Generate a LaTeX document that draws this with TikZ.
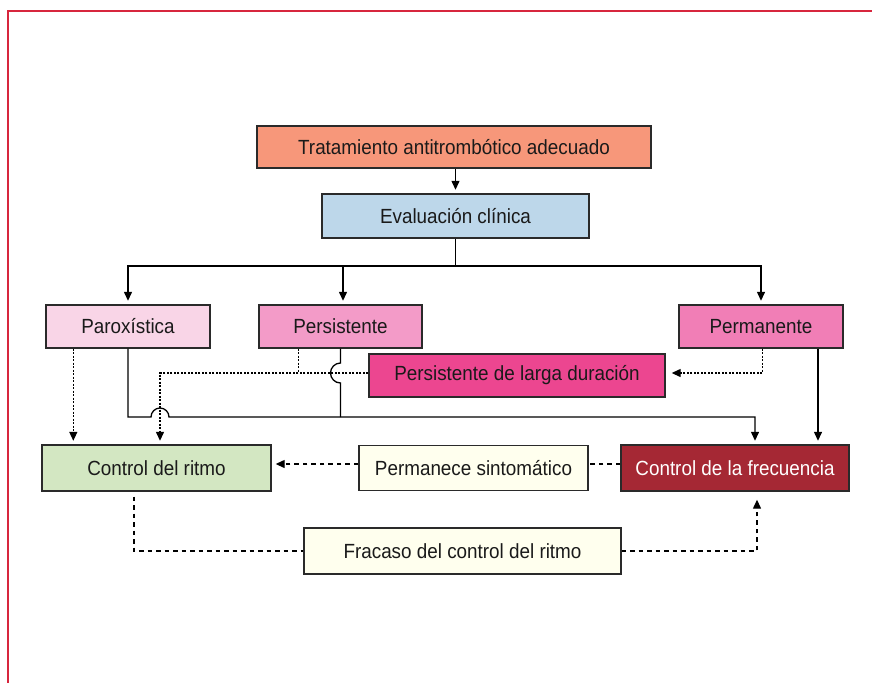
\documentclass[tikz,border=0pt]{standalone}
\usepackage{fontspec}
\setmainfont{Liberation Sans}[FakeStretch=0.92]
\usetikzlibrary{arrows.meta}
\definecolor{cTrat}{HTML}{F7977A}
\definecolor{cEval}{HTML}{BDD7EA}
\definecolor{cParox}{HTML}{F9D5E7}
\definecolor{cPers}{HTML}{F39BC8}
\definecolor{cPerm}{HTML}{F17EB6}
\definecolor{cLarga}{HTML}{EC4690}
\definecolor{cRitmo}{HTML}{D3E7C2}
\definecolor{cCream}{HTML}{FFFFEE}
\definecolor{cFrec}{HTML}{A52834}
\definecolor{cFrame}{HTML}{D7263D}
\definecolor{boxline}{HTML}{2A2A2A}
\definecolor{txt}{HTML}{1A1A1A}
\begin{document}
\begin{tikzpicture}[x=1pt,y=1pt,
  box/.style={draw=boxline, line width=1.4pt, minimum height=43pt, inner sep=0pt,
    font=\fontsize{20.5}{24}\selectfont, text=txt},
  sol/.style={line width=1.3pt, draw=black},
  arr/.style={-{Triangle[length=9pt,width=8pt]}, shorten >=3.5pt},
  dot/.style={dash pattern=on 2pt off 1.5pt, line width=1.3pt},
  dsh/.style={dash pattern=on 4.5pt off 4pt, line width=1.3pt},
  frame/.style={draw=cFrame, line width=2pt}]
\useasboundingbox (0,0) rectangle (872,-683);
\draw[frame] (872,-10.5) -- (7.5,-10.5) -- (7.5,-683);

% nodes
\node[box, fill=cTrat, minimum width=394pt, minimum height=42pt] (trat) at (454,-147) {Tratamiento antitrombótico adecuado};
\node[box, fill=cEval, minimum width=267pt, minimum height=44pt] (eval) at (455.5,-216) {Evaluación clínica};
\node[box, fill=cParox, minimum width=164pt] (parox) at (128,-326.5) {Paroxística};
\node[box, fill=cPers, minimum width=163pt] (pers) at (340.5,-326.5) {Persistente};
\node[box, fill=cPerm, minimum width=164pt] (perm) at (761,-326.5) {Permanente};
\node[box, fill=cLarga, minimum width=296pt] (larga) at (517,-375.5) {Persistente de larga duración};
\node[box, fill=cRitmo, minimum width=229pt, minimum height=46pt] (ritmo) at (156.5,-468) {Control del ritmo};
\node[box, fill=cCream, minimum width=229pt, minimum height=45pt] (perman) at (473.5,-468) {Permanece sintomático};
\node[box, fill=cFrec, minimum width=228pt, minimum height=46pt, text=white] (frec) at (735,-468) {Control de la frecuencia};
\node[box, fill=cCream, minimum width=317pt, minimum height=46pt] (fracaso) at (462.5,-551) {Fracaso del control del ritmo};

% helper coordinates
\coordinate (bus) at (456,-266);
\coordinate (persin) at ([xshift=2.5pt]pers.north);
\coordinate (pxd) at ([xshift=28pt]parox.south west);
\coordinate (frin) at ([xshift=20pt]frec.north);
\coordinate (dl) at (160,-373);
\coordinate (psd) at ([xshift=40pt]pers.south west);
\coordinate (rin) at ([xshift=3.5pt]ritmo.north);
\coordinate (pmd) at ([xshift=1.5pt]perm.south);
\coordinate (pms) at ([xshift=57pt]perm.south);
\coordinate (ml) at (0,-464);
\coordinate (rbd) at ([xshift=-22.5pt]ritmo.south);
\coordinate (fbu) at ([xshift=22pt]frec.south);

% solid connectors
\draw[sol,arr] (trat.south -| eval.north) -- (eval.north);
\draw[sol] (eval.south) -- (eval.south |- bus);
\draw[sol,arr] (eval.south |- bus) -| (parox.north);
\draw[sol,arr] (eval.south |- bus) -| (perm.north);
\draw[sol,arr] (persin |- bus) -- (persin);
\draw[sol,arr] (parox.south) |- (151,-417) arc[start angle=180,end angle=0,radius=9] -| (frin);
\draw[sol] (pers.south) -- (340.5,-363) arc[start angle=90,end angle=270,radius=10] -- (340.5,-417);
\draw[sol,arr] (pms) -- (pms |- frec.north);

% dotted connectors
\draw[dot,arr] (pxd) -- (pxd |- ritmo.north);
\draw[dot] (psd) -- (psd |- dl);
\draw[dot,arr] (larga.west |- dl) -| (rin);
\draw[dot,arr,shorten >=6pt] (pmd) |- (larga.east |- dl);

% dashed connectors
\draw[dsh] (frec.west |- ml) -- (perman.east |- ml);
\draw[dsh,arr,shorten >=4pt] (perman.west |- ml) -- (ritmo.east |- ml);
\draw[dsh,shorten <=5pt] (rbd) |- (fracaso.west);
\draw[dsh,arr,shorten >=8pt] (fracaso.east) -| (fbu);
\end{tikzpicture}
\end{document}
